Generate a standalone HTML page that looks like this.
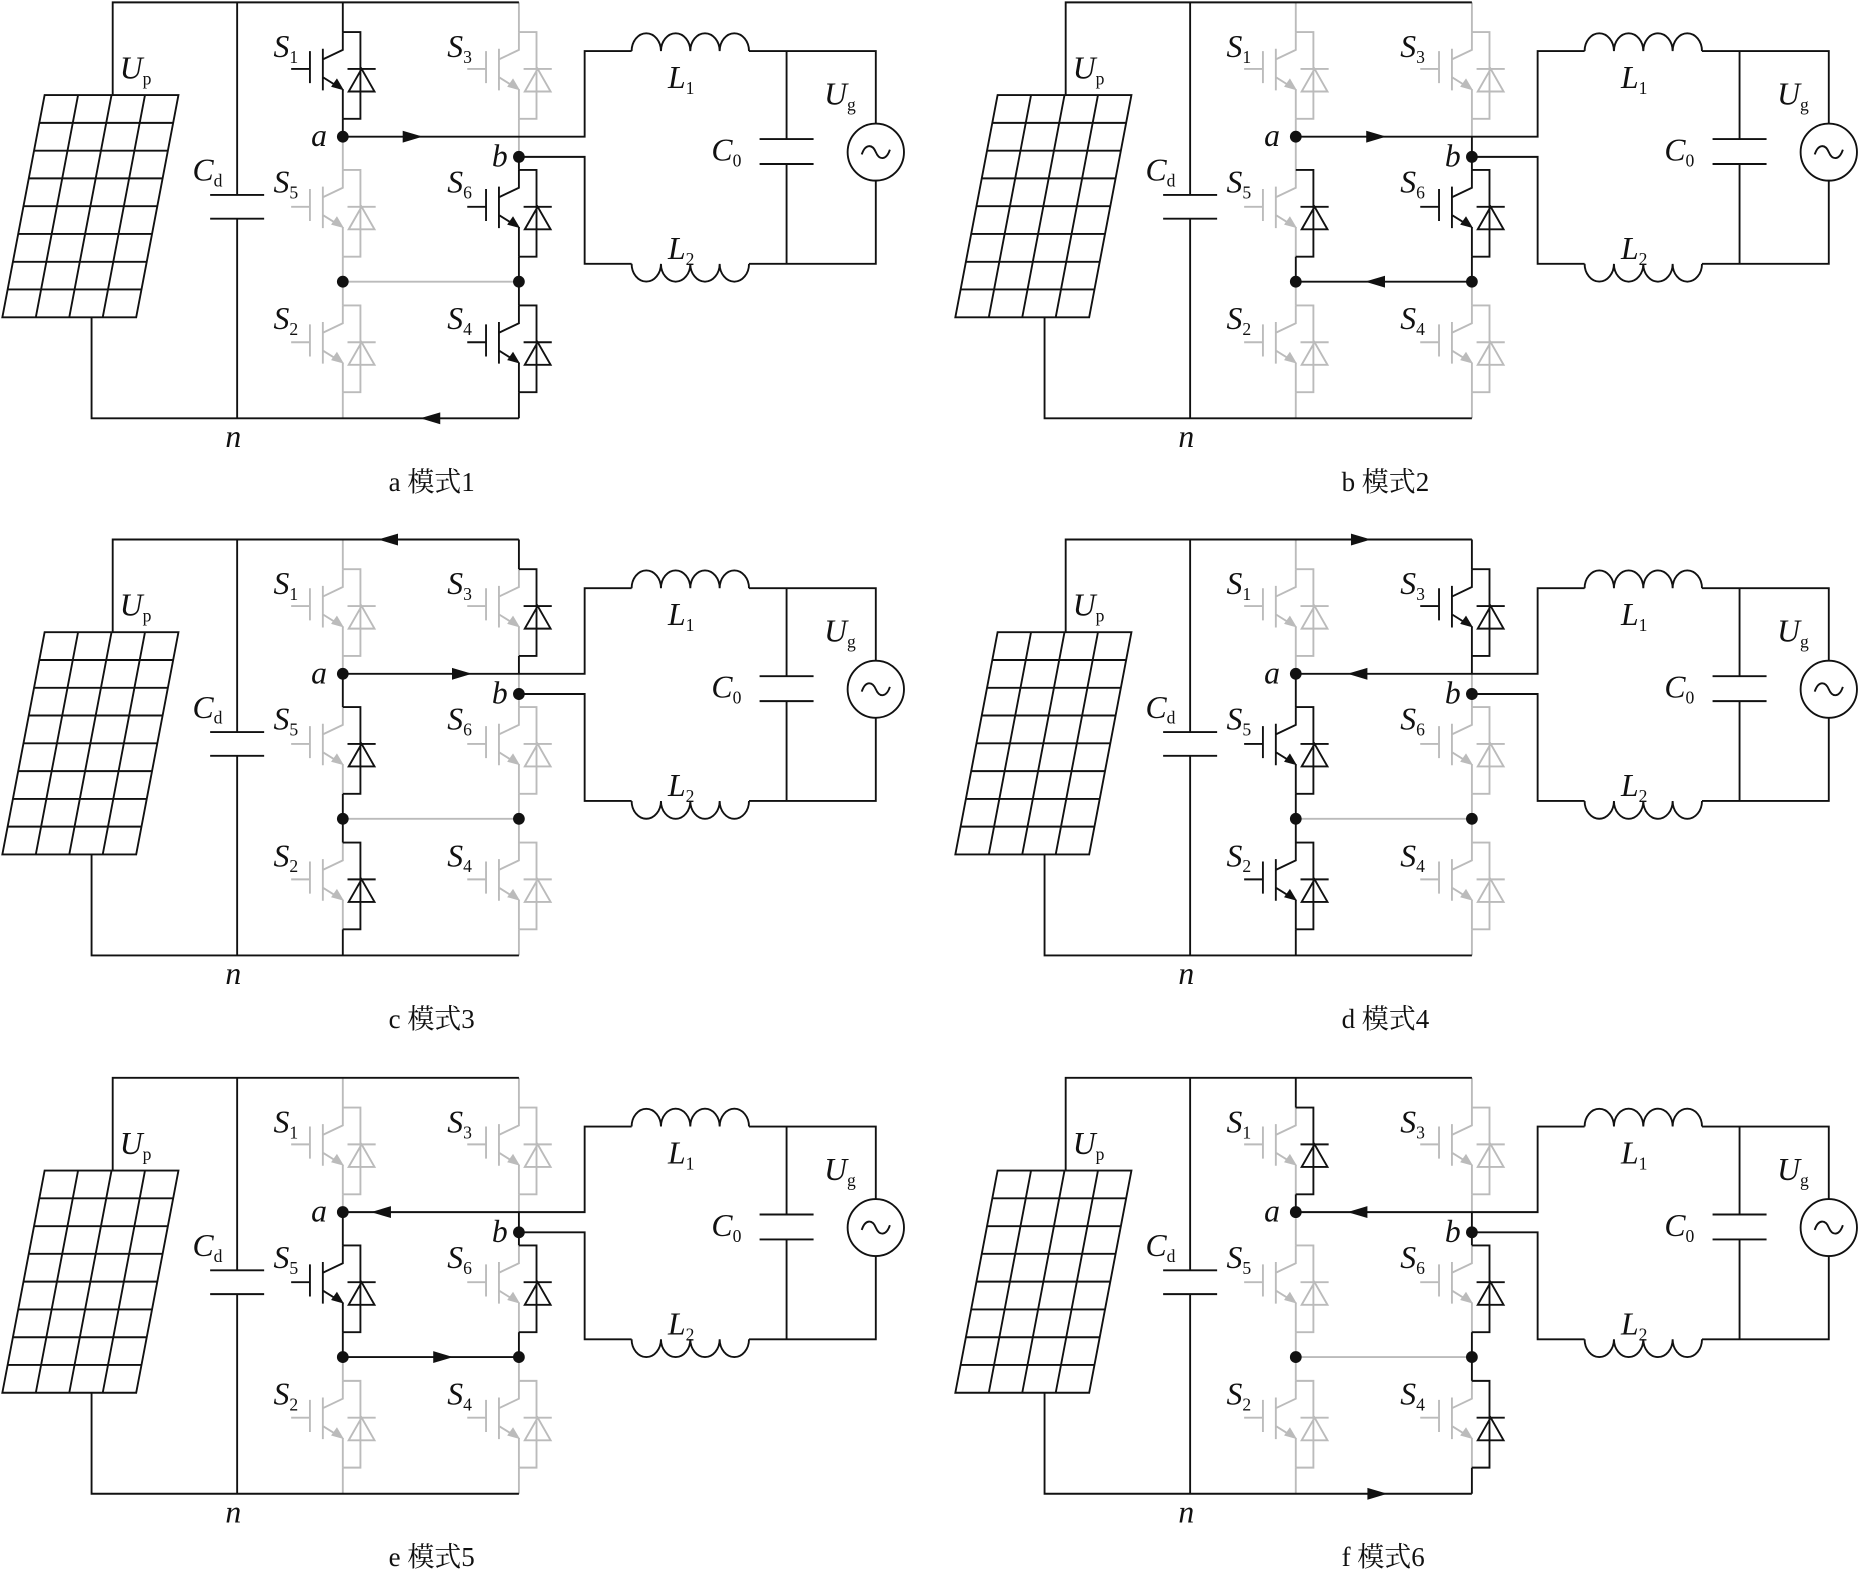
<!DOCTYPE html>
<html><head><meta charset="utf-8"><style>
html,body{margin:0;padding:0;background:#fff}
svg{display:block}
text{font-family:"Liberation Serif","Noto Serif CJK SC",serif;fill:#111}
.i{font-style:italic;font-size:27px}
.s{font-size:15px;font-style:normal}
.cap{font-size:23px}
</style></head><body>
<svg width="1862" height="1571" viewBox="0 0 1567 1322" preserveAspectRatio="none" xmlns="http://www.w3.org/2000/svg">
<defs>
<g id="ig" fill="none" stroke="currentColor" stroke-width="1.6">
<path d="M0,0V15L-17,23 M-17,14V49 M-28,16V43 M-44,31H-28 M-17,38L-4,46 M0,48V73"/>
<path d="M1,49L-10,46L-5,39Z" fill="currentColor" stroke="none"/>
</g>
<g id="di" fill="none" stroke="currentColor" stroke-width="1.6">
<path d="M0,0H15V73H0 M4,31H28 M16,31L5,50H27Z"/>
</g>
<path id="ar" d="M-8,-5L9,0L-8,5Z" fill="#111"/>
<g id="base" fill="none" stroke="#111" stroke-width="1.6">
<path d="M38,80H152L116,267H2Z M66.5,80L30.5,267 M95,80L59,267 M123.5,80L87.5,267
M33.4,103.4H147.4 M28.9,126.8H142.9 M24.5,150.1H138.5 M20,173.5H134 M15.5,196.9H129.5 M11,220.3H125 M6.5,243.6H120.5"/>
<path d="M96,80V2H442 M78,267V352H442 M202,2V164 M202,184V352 M179,164H225 M179,184H225"/>
<path d="M292,115H498V43H538 M538,43a12.5,15 0 0 1 25,0a12.5,15 0 0 1 25,0a12.5,15 0 0 1 25,0a12.5,15 0 0 1 25,0 M638,43H746V104 M746,152V222H638 M638,222a12.5,15 0 0 1 -25,0a12.5,15 0 0 1 -25,0a12.5,15 0 0 1 -25,0a12.5,15 0 0 1 -25,0 M538,222H498V132H442
M670,43V117 M670,138V222 M647,117H693 M647,138H693"/>
<circle cx="746" cy="128" r="24"/>
<path d="M734,130c3,-9 9,-9 12,-2s9,7 12,-2"/>
<circle cx="292" cy="115" r="5" fill="#111" stroke="none"/>
<circle cx="442" cy="132" r="5" fill="#111" stroke="none"/>
<circle cx="292" cy="237" r="5" fill="#111" stroke="none"/>
<circle cx="442" cy="237" r="5" fill="#111" stroke="none"/>
</g>
</defs>

<g transform="translate(0,0) scale(0.988,1)">
<g fill="none" stroke-width="1.6">
<path stroke="#bbb" d="M292,115V143 M292,216V237 M292,237V257 M292,330V352 M442,2V27 M442,100V132 M292,237H442"/>
<path stroke="#111" d="M292,2V27 M292,100V115 M442,132V143 M442,216V237 M442,237V257 M442,330V352"/>
</g>
<use href="#base"/>
<use href="#ig" x="292" y="27" style="color:#111"/><use href="#di" x="292" y="27" style="color:#111"/>
<use href="#ig" x="442" y="27" style="color:#bbb"/><use href="#di" x="442" y="27" style="color:#bbb"/>
<use href="#ig" x="292" y="143" style="color:#bbb"/><use href="#di" x="292" y="143" style="color:#bbb"/>
<use href="#ig" x="442" y="143" style="color:#111"/><use href="#di" x="442" y="143" style="color:#111"/>
<use href="#ig" x="292" y="257" style="color:#bbb"/><use href="#di" x="292" y="257" style="color:#bbb"/>
<use href="#ig" x="442" y="257" style="color:#111"/><use href="#di" x="442" y="257" style="color:#111"/>
<use href="#ar" transform="translate(351,115)"/>
<use href="#ar" transform="translate(367,352) rotate(180)"/>
<text class="i" x="233" y="48">S<tspan class="s" dy="5">1</tspan></text>
<text class="i" x="381" y="48">S<tspan class="s" dy="5">3</tspan></text>
<text class="i" x="233" y="162">S<tspan class="s" dy="5">5</tspan></text>
<text class="i" x="381" y="162">S<tspan class="s" dy="5">6</tspan></text>
<text class="i" x="233" y="277">S<tspan class="s" dy="5">2</tspan></text>
<text class="i" x="381" y="277">S<tspan class="s" dy="5">4</tspan></text>
<text class="i" x="102" y="66">U<tspan class="s" dy="5">p</tspan></text>
<text class="i" x="164" y="152">C<tspan class="s" dy="5">d</tspan></text>
<text class="i" x="265" y="123">a</text>
<text class="i" x="419" y="140">b</text>
<text class="i" x="192" y="376">n</text>
<text class="i" x="569" y="74">L<tspan class="s" dy="5">1</tspan></text>
<text class="i" x="569" y="218">L<tspan class="s" dy="5">2</tspan></text>
<text class="i" x="606" y="135">C<tspan class="s" dy="5">0</tspan></text>
<text class="i" x="702" y="88">U<tspan class="s" dy="5">g</tspan></text>
<text class="cap" x="331" y="413">a 模式1</text>
</g>

<g transform="translate(802,0) scale(0.988,1)">
<g fill="none" stroke-width="1.6">
<path stroke="#bbb" d="M292,2V27 M292,100V115 M292,115V143 M292,237V257 M292,330V352 M442,2V27 M442,100V115 M442,237V257 M442,330V352"/>
<path stroke="#111" d="M292,216V237 M442,115V143 M442,216V237 M292,237H442"/>
</g>
<use href="#base"/>
<use href="#ig" x="292" y="27" style="color:#bbb"/><use href="#di" x="292" y="27" style="color:#bbb"/>
<use href="#ig" x="442" y="27" style="color:#bbb"/><use href="#di" x="442" y="27" style="color:#bbb"/>
<use href="#ig" x="292" y="143" style="color:#bbb"/><use href="#di" x="292" y="143" style="color:#111"/>
<use href="#ig" x="442" y="143" style="color:#111"/><use href="#di" x="442" y="143" style="color:#111"/>
<use href="#ig" x="292" y="257" style="color:#bbb"/><use href="#di" x="292" y="257" style="color:#bbb"/>
<use href="#ig" x="442" y="257" style="color:#bbb"/><use href="#di" x="442" y="257" style="color:#bbb"/>
<use href="#ar" transform="translate(360,115)"/>
<use href="#ar" transform="translate(360,237) rotate(180)"/>
<text class="i" x="233" y="48">S<tspan class="s" dy="5">1</tspan></text>
<text class="i" x="381" y="48">S<tspan class="s" dy="5">3</tspan></text>
<text class="i" x="233" y="162">S<tspan class="s" dy="5">5</tspan></text>
<text class="i" x="381" y="162">S<tspan class="s" dy="5">6</tspan></text>
<text class="i" x="233" y="277">S<tspan class="s" dy="5">2</tspan></text>
<text class="i" x="381" y="277">S<tspan class="s" dy="5">4</tspan></text>
<text class="i" x="102" y="66">U<tspan class="s" dy="5">p</tspan></text>
<text class="i" x="164" y="152">C<tspan class="s" dy="5">d</tspan></text>
<text class="i" x="265" y="123">a</text>
<text class="i" x="419" y="140">b</text>
<text class="i" x="192" y="376">n</text>
<text class="i" x="569" y="74">L<tspan class="s" dy="5">1</tspan></text>
<text class="i" x="569" y="218">L<tspan class="s" dy="5">2</tspan></text>
<text class="i" x="606" y="135">C<tspan class="s" dy="5">0</tspan></text>
<text class="i" x="702" y="88">U<tspan class="s" dy="5">g</tspan></text>
<text class="cap" x="331" y="413">b 模式2</text>
</g>

<g transform="translate(0,452) scale(0.988,1)">
<g fill="none" stroke-width="1.6">
<path stroke="#bbb" d="M292,2V27 M292,100V115 M442,115V143 M442,216V237 M442,237V257 M442,330V352 M292,237H442"/>
<path stroke="#111" d="M442,2V27 M442,100V115 M292,115V143 M292,216V237 M292,237V257 M292,330V352"/>
</g>
<use href="#base"/>
<use href="#ig" x="292" y="27" style="color:#bbb"/><use href="#di" x="292" y="27" style="color:#bbb"/>
<use href="#ig" x="442" y="27" style="color:#bbb"/><use href="#di" x="442" y="27" style="color:#111"/>
<use href="#ig" x="292" y="143" style="color:#bbb"/><use href="#di" x="292" y="143" style="color:#111"/>
<use href="#ig" x="442" y="143" style="color:#bbb"/><use href="#di" x="442" y="143" style="color:#bbb"/>
<use href="#ig" x="292" y="257" style="color:#bbb"/><use href="#di" x="292" y="257" style="color:#111"/>
<use href="#ig" x="442" y="257" style="color:#bbb"/><use href="#di" x="442" y="257" style="color:#bbb"/>
<use href="#ar" transform="translate(331,2) rotate(180)"/>
<use href="#ar" transform="translate(393,115)"/>
<text class="i" x="233" y="48">S<tspan class="s" dy="5">1</tspan></text>
<text class="i" x="381" y="48">S<tspan class="s" dy="5">3</tspan></text>
<text class="i" x="233" y="162">S<tspan class="s" dy="5">5</tspan></text>
<text class="i" x="381" y="162">S<tspan class="s" dy="5">6</tspan></text>
<text class="i" x="233" y="277">S<tspan class="s" dy="5">2</tspan></text>
<text class="i" x="381" y="277">S<tspan class="s" dy="5">4</tspan></text>
<text class="i" x="102" y="66">U<tspan class="s" dy="5">p</tspan></text>
<text class="i" x="164" y="152">C<tspan class="s" dy="5">d</tspan></text>
<text class="i" x="265" y="123">a</text>
<text class="i" x="419" y="140">b</text>
<text class="i" x="192" y="376">n</text>
<text class="i" x="569" y="74">L<tspan class="s" dy="5">1</tspan></text>
<text class="i" x="569" y="218">L<tspan class="s" dy="5">2</tspan></text>
<text class="i" x="606" y="135">C<tspan class="s" dy="5">0</tspan></text>
<text class="i" x="702" y="88">U<tspan class="s" dy="5">g</tspan></text>
<text class="cap" x="331" y="413">c 模式3</text>
</g>

<g transform="translate(802,452) scale(0.988,1)">
<g fill="none" stroke-width="1.6">
<path stroke="#bbb" d="M292,2V27 M292,100V115 M442,115V143 M442,216V237 M442,237V257 M442,330V352 M292,237H442"/>
<path stroke="#111" d="M442,2V27 M442,100V115 M292,115V143 M292,216V237 M292,237V257 M292,330V352"/>
</g>
<use href="#base"/>
<use href="#ig" x="292" y="27" style="color:#bbb"/><use href="#di" x="292" y="27" style="color:#bbb"/>
<use href="#ig" x="442" y="27" style="color:#111"/><use href="#di" x="442" y="27" style="color:#111"/>
<use href="#ig" x="292" y="143" style="color:#111"/><use href="#di" x="292" y="143" style="color:#111"/>
<use href="#ig" x="442" y="143" style="color:#bbb"/><use href="#di" x="442" y="143" style="color:#bbb"/>
<use href="#ig" x="292" y="257" style="color:#111"/><use href="#di" x="292" y="257" style="color:#111"/>
<use href="#ig" x="442" y="257" style="color:#bbb"/><use href="#di" x="442" y="257" style="color:#bbb"/>
<use href="#ar" transform="translate(347,2)"/>
<use href="#ar" transform="translate(345,115) rotate(180)"/>
<text class="i" x="233" y="48">S<tspan class="s" dy="5">1</tspan></text>
<text class="i" x="381" y="48">S<tspan class="s" dy="5">3</tspan></text>
<text class="i" x="233" y="162">S<tspan class="s" dy="5">5</tspan></text>
<text class="i" x="381" y="162">S<tspan class="s" dy="5">6</tspan></text>
<text class="i" x="233" y="277">S<tspan class="s" dy="5">2</tspan></text>
<text class="i" x="381" y="277">S<tspan class="s" dy="5">4</tspan></text>
<text class="i" x="102" y="66">U<tspan class="s" dy="5">p</tspan></text>
<text class="i" x="164" y="152">C<tspan class="s" dy="5">d</tspan></text>
<text class="i" x="265" y="123">a</text>
<text class="i" x="419" y="140">b</text>
<text class="i" x="192" y="376">n</text>
<text class="i" x="569" y="74">L<tspan class="s" dy="5">1</tspan></text>
<text class="i" x="569" y="218">L<tspan class="s" dy="5">2</tspan></text>
<text class="i" x="606" y="135">C<tspan class="s" dy="5">0</tspan></text>
<text class="i" x="702" y="88">U<tspan class="s" dy="5">g</tspan></text>
<text class="cap" x="331" y="413">d 模式4</text>
</g>

<g transform="translate(0,905) scale(0.988,1)">
<g fill="none" stroke-width="1.6">
<path stroke="#bbb" d="M292,2V27 M292,100V115 M292,237V257 M292,330V352 M442,2V27 M442,100V115 M442,237V257 M442,330V352"/>
<path stroke="#111" d="M292,115V143 M292,216V237 M442,115V143 M442,216V237 M292,237H442"/>
</g>
<use href="#base"/>
<use href="#ig" x="292" y="27" style="color:#bbb"/><use href="#di" x="292" y="27" style="color:#bbb"/>
<use href="#ig" x="442" y="27" style="color:#bbb"/><use href="#di" x="442" y="27" style="color:#bbb"/>
<use href="#ig" x="292" y="143" style="color:#111"/><use href="#di" x="292" y="143" style="color:#111"/>
<use href="#ig" x="442" y="143" style="color:#bbb"/><use href="#di" x="442" y="143" style="color:#111"/>
<use href="#ig" x="292" y="257" style="color:#bbb"/><use href="#di" x="292" y="257" style="color:#bbb"/>
<use href="#ig" x="442" y="257" style="color:#bbb"/><use href="#di" x="442" y="257" style="color:#bbb"/>
<use href="#ar" transform="translate(325,115) rotate(180)"/>
<use href="#ar" transform="translate(377,237)"/>
<text class="i" x="233" y="48">S<tspan class="s" dy="5">1</tspan></text>
<text class="i" x="381" y="48">S<tspan class="s" dy="5">3</tspan></text>
<text class="i" x="233" y="162">S<tspan class="s" dy="5">5</tspan></text>
<text class="i" x="381" y="162">S<tspan class="s" dy="5">6</tspan></text>
<text class="i" x="233" y="277">S<tspan class="s" dy="5">2</tspan></text>
<text class="i" x="381" y="277">S<tspan class="s" dy="5">4</tspan></text>
<text class="i" x="102" y="66">U<tspan class="s" dy="5">p</tspan></text>
<text class="i" x="164" y="152">C<tspan class="s" dy="5">d</tspan></text>
<text class="i" x="265" y="123">a</text>
<text class="i" x="419" y="140">b</text>
<text class="i" x="192" y="376">n</text>
<text class="i" x="569" y="74">L<tspan class="s" dy="5">1</tspan></text>
<text class="i" x="569" y="218">L<tspan class="s" dy="5">2</tspan></text>
<text class="i" x="606" y="135">C<tspan class="s" dy="5">0</tspan></text>
<text class="i" x="702" y="88">U<tspan class="s" dy="5">g</tspan></text>
<text class="cap" x="331" y="413">e 模式5</text>
</g>

<g transform="translate(802,905) scale(0.988,1)">
<g fill="none" stroke-width="1.6">
<path stroke="#bbb" d="M292,115V143 M292,216V237 M292,237V257 M292,330V352 M442,2V27 M442,100V115 M292,237H442"/>
<path stroke="#111" d="M292,2V27 M292,100V115 M442,115V143 M442,216V237 M442,237V257 M442,330V352"/>
</g>
<use href="#base"/>
<use href="#ig" x="292" y="27" style="color:#bbb"/><use href="#di" x="292" y="27" style="color:#111"/>
<use href="#ig" x="442" y="27" style="color:#bbb"/><use href="#di" x="442" y="27" style="color:#bbb"/>
<use href="#ig" x="292" y="143" style="color:#bbb"/><use href="#di" x="292" y="143" style="color:#bbb"/>
<use href="#ig" x="442" y="143" style="color:#bbb"/><use href="#di" x="442" y="143" style="color:#111"/>
<use href="#ig" x="292" y="257" style="color:#bbb"/><use href="#di" x="292" y="257" style="color:#bbb"/>
<use href="#ig" x="442" y="257" style="color:#bbb"/><use href="#di" x="442" y="257" style="color:#111"/>
<use href="#ar" transform="translate(345,115) rotate(180)"/>
<use href="#ar" transform="translate(361,352)"/>
<text class="i" x="233" y="48">S<tspan class="s" dy="5">1</tspan></text>
<text class="i" x="381" y="48">S<tspan class="s" dy="5">3</tspan></text>
<text class="i" x="233" y="162">S<tspan class="s" dy="5">5</tspan></text>
<text class="i" x="381" y="162">S<tspan class="s" dy="5">6</tspan></text>
<text class="i" x="233" y="277">S<tspan class="s" dy="5">2</tspan></text>
<text class="i" x="381" y="277">S<tspan class="s" dy="5">4</tspan></text>
<text class="i" x="102" y="66">U<tspan class="s" dy="5">p</tspan></text>
<text class="i" x="164" y="152">C<tspan class="s" dy="5">d</tspan></text>
<text class="i" x="265" y="123">a</text>
<text class="i" x="419" y="140">b</text>
<text class="i" x="192" y="376">n</text>
<text class="i" x="569" y="74">L<tspan class="s" dy="5">1</tspan></text>
<text class="i" x="569" y="218">L<tspan class="s" dy="5">2</tspan></text>
<text class="i" x="606" y="135">C<tspan class="s" dy="5">0</tspan></text>
<text class="i" x="702" y="88">U<tspan class="s" dy="5">g</tspan></text>
<text class="cap" x="331" y="413">f 模式6</text>
</g>
</svg>
</body></html>
